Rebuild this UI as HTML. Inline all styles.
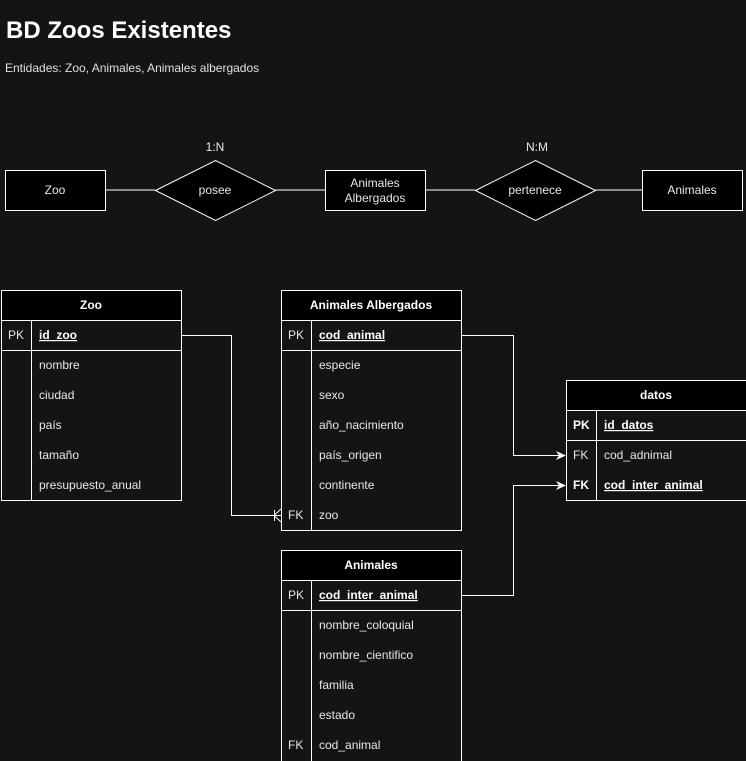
<!DOCTYPE html>
<html><head><meta charset="utf-8"><style>
html,body{margin:0;padding:0;background:#141414;}
svg{display:block;}
text{font-family:"Liberation Sans",Arial,sans-serif;}
</style></head><body>
<svg width="746" height="761" viewBox="0 0 746 761" xmlns="http://www.w3.org/2000/svg">
<rect x="0" y="0" width="746" height="761" fill="#141414"/>
<text x="6" y="38" font-size="24" font-weight="bold" fill="#fff">BD Zoos Existentes</text>
<text x="5" y="72" font-size="12" fill="#e0e0e0">Entidades: Zoo, Animales, Animales albergados</text>

<g stroke="#fff" stroke-width="1" fill="#000">
<line x1="105" y1="190" x2="155" y2="190"/>
<line x1="275" y1="190" x2="325" y2="190"/>
<line x1="425" y1="190" x2="475" y2="190"/>
<line x1="595" y1="190" x2="642" y2="190"/>
<rect x="5.5" y="170.5" width="100" height="40"/>
<polygon points="155.5,190.5 215.5,160.5 275.5,190.5 215.5,220.5"/>
<rect x="325.5" y="170.5" width="100" height="40"/>
<polygon points="475.5,190.5 535.5,160.5 595.5,190.5 535.5,220.5"/>
<rect x="642.5" y="170.5" width="100" height="40"/>
</g>
<g font-size="12" fill="#e8e8e8" text-anchor="middle">
<text x="215" y="151">1:N</text>
<text x="537" y="151">N:M</text>
<text x="55" y="194">Zoo</text>
<text x="215" y="194">posee</text>
<text x="375" y="187">Animales</text>
<text x="375" y="202">Albergados</text>
<text x="535" y="194">pertenece</text>
<text x="692" y="194">Animales</text>
</g>

<g stroke="#fff" stroke-width="1" fill="none">
<polyline points="181,335.5 231.5,335.5 231.5,515.5 281,515.5"/>
<line x1="274.5" y1="510" x2="274.5" y2="521"/>
<polyline points="281,509 274,515.5 281,522"/>
<polyline points="461,335.5 513.5,335.5 513.5,455.5 560,455.5"/>
<polyline points="461,595.5 513.5,595.5 513.5,485.5 560,485.5"/>
</g>
<g fill="#fff">
<polygon points="566,455.5 556,451 559,455.5 556,460"/>
<polygon points="566,485.5 556,481 559,485.5 556,490"/>
</g>

<g stroke="#fff" stroke-width="1">
<rect x="1.5" y="290.5" width="180" height="30" fill="#000"/>
<rect x="1.5" y="320.5" width="180" height="180" fill="none"/>
<line x1="1.5" y1="350.5" x2="181.5" y2="350.5"/>
<line x1="31.5" y1="320.5" x2="31.5" y2="500.5"/>
</g>
<text x="91" y="309" font-size="12" font-weight="bold" fill="#fff" text-anchor="middle">Zoo</text>
<g font-size="12" fill="#e8e8e8">
<text x="8" y="339">PK</text>
<text x="39" y="339" text-decoration="underline" font-weight="bold" fill="#fff">id_zoo</text>
<text x="39" y="369">nombre</text>
<text x="39" y="399">ciudad</text>
<text x="39" y="429">país</text>
<text x="39" y="459">tamaño</text>
<text x="39" y="489">presupuesto_anual</text>
</g>

<g stroke="#fff" stroke-width="1">
<rect x="281.5" y="290.5" width="180" height="30" fill="#000"/>
<rect x="281.5" y="320.5" width="180" height="210" fill="none"/>
<line x1="281.5" y1="350.5" x2="461.5" y2="350.5"/>
<line x1="311.5" y1="320.5" x2="311.5" y2="530.5"/>
</g>
<text x="371" y="309" font-size="12" font-weight="bold" fill="#fff" text-anchor="middle">Animales Albergados</text>
<g font-size="12" fill="#e8e8e8">
<text x="288" y="339">PK</text>
<text x="319" y="339" text-decoration="underline" font-weight="bold" fill="#fff">cod_animal</text>
<text x="319" y="369">especie</text>
<text x="319" y="399">sexo</text>
<text x="319" y="429">año_nacimiento</text>
<text x="319" y="459">país_origen</text>
<text x="319" y="489">continente</text>
<text x="288" y="519">FK</text>
<text x="319" y="519">zoo</text>
</g>

<g stroke="#fff" stroke-width="1">
<rect x="281.5" y="550.5" width="180" height="30" fill="#000"/>
<polyline points="281.5,580.5 281.5,762 " fill="none"/>
<polyline points="461.5,580.5 461.5,762" fill="none"/>
<line x1="281.5" y1="580.5" x2="461.5" y2="580.5"/>
<line x1="281.5" y1="610.5" x2="461.5" y2="610.5"/>
<line x1="311.5" y1="580.5" x2="311.5" y2="762"/>
</g>
<text x="371" y="569" font-size="12" font-weight="bold" fill="#fff" text-anchor="middle">Animales</text>
<g font-size="12" fill="#e8e8e8">
<text x="288" y="599">PK</text>
<text x="319" y="599" text-decoration="underline" font-weight="bold" fill="#fff">cod_inter_animal</text>
<text x="319" y="629">nombre_coloquial</text>
<text x="319" y="659">nombre_cientifico</text>
<text x="319" y="689">familia</text>
<text x="319" y="719">estado</text>
<text x="288" y="749">FK</text>
<text x="319" y="749">cod_animal</text>
</g>

<g stroke="#fff" stroke-width="1">
<rect x="566.5" y="380.5" width="180" height="30" fill="#000"/>
<rect x="566.5" y="410.5" width="180" height="90" fill="none"/>
<line x1="566.5" y1="440.5" x2="746" y2="440.5"/>
<line x1="596.5" y1="410.5" x2="596.5" y2="500.5"/>
</g>
<text x="656" y="399" font-size="12" font-weight="bold" fill="#fff" text-anchor="middle">datos</text>
<g font-size="12" fill="#e8e8e8">
<text x="573" y="429" font-weight="bold" fill="#fff">PK</text>
<text x="604" y="429" text-decoration="underline" font-weight="bold" fill="#fff">id_datos</text>
<text x="573" y="459">FK</text>
<text x="604" y="459">cod_adnimal</text>
<text x="573" y="489" font-weight="bold" fill="#fff">FK</text>
<text x="604" y="489" text-decoration="underline" font-weight="bold" fill="#fff">cod_inter_animal</text>
</g>
</svg>
</body></html>
